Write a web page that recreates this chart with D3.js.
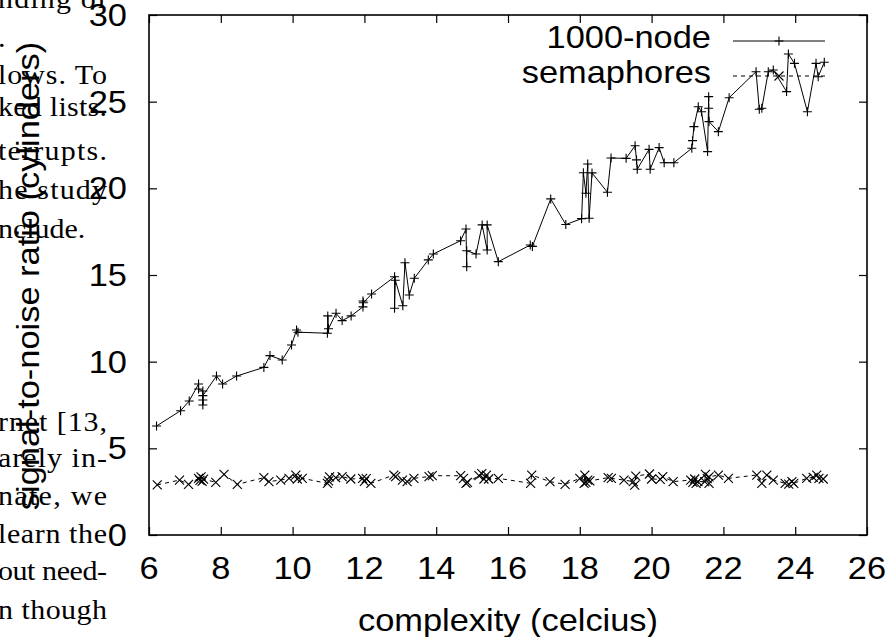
<!DOCTYPE html>
<html>
<head>
<meta charset="utf-8">
<script src="https://cdn.jsdelivr.net/npm/d3@7"></script>
<style>
  body { margin: 0; background: #fff; }
  svg { display: block; }
  .sans { font-family: "Liberation Sans", Arial, Helvetica, sans-serif; }
  .serif { font-family: "Liberation Serif", "Times New Roman", serif; }
</style>
</head>
<body>
<svg id="chart" width="889" height="637"></svg>
<script>
// Paper text that bleeds in from the left column (only the visible part of each line).
const paperLines = ['nding of', '.', 'lows. To', 'ked lists.', 'terrupts.', 'he study',
  'nclude.', 'rnet [13,', 'arely in-', 'nate, we', 'learn the', 'out need-', 'n though'];
// Lines that end a paragraph are not justified.
const paperRagged = ['.', 'nclude.'];

const xTicks = [6, 8, 10, 12, 14, 16, 18, 20, 22, 24, 26];
const yTicks = [0, 5, 10, 15, 20, 25, 30];

// 1000-node (solid, "+")
const nodeX = [6.21, 6.88, 7.12, 7.38, 7.38, 7.50, 7.50, 7.50, 7.50, 7.88, 8.05, 8.44, 9.20, 9.37, 9.71,
  9.97, 10.11, 10.15, 10.97, 10.98, 11.00, 11.21, 11.38, 11.63, 11.96, 11.96, 11.97, 12.20, 12.84,
  12.84, 12.86, 13.07, 13.13, 13.25, 13.39, 13.78, 13.92, 14.68, 14.83, 14.85, 14.85, 15.11, 15.28,
  15.42, 15.42, 15.73, 16.62, 16.68, 17.19, 17.61, 18.05, 18.10, 18.17, 18.22, 18.26, 18.34, 18.77,
  18.87, 19.29, 19.54, 19.58, 19.60, 19.93, 19.96, 20.21, 20.35, 20.62, 21.12, 21.14, 21.18, 21.30,
  21.39, 21.56, 21.59, 21.59, 21.60, 21.86, 22.16, 22.91, 23.00, 23.07, 23.25, 23.39, 23.76, 23.81,
  23.98, 24.34, 24.58, 24.64, 24.81];
const nodeY = [6.29, 7.17, 7.73, 8.71, 8.42, 8.31, 7.50, 7.79, 8.04, 9.17, 8.71, 9.17, 9.67, 10.35, 10.10,
  10.96, 11.83, 11.70, 11.64, 12.64, 11.90, 12.79, 12.37, 12.64, 13.16, 13.50, 13.40, 13.90, 14.90,
  13.08, 14.70, 13.23, 15.71, 13.85, 14.81, 15.87, 16.21, 16.98, 17.65, 15.48, 16.40, 16.21, 17.89,
  16.44, 17.89, 15.77, 16.73, 16.65, 19.39, 17.91, 18.25, 20.90, 19.72, 21.40, 18.27, 20.89, 19.77,
  21.75, 21.73, 22.46, 21.64, 21.10, 22.25, 21.10, 22.35, 21.48, 21.48, 22.31, 22.75, 23.56, 24.71,
  24.42, 22.12, 25.29, 24.62, 23.85, 23.27, 25.23, 26.73, 24.56, 24.62, 26.73, 26.83, 25.58, 27.75,
  27.21, 24.42, 27.21, 26.44, 27.27];

// semaphores (dashed, "x")
const semX = [6.23, 6.85, 7.10, 7.38, 7.42, 7.45, 7.48, 7.52, 7.86, 8.09, 8.46, 9.20, 9.34, 9.67, 9.90,
  10.09, 10.13, 10.27, 10.97, 11.00, 11.03, 11.20, 11.38, 11.62, 11.95, 12.00, 12.05, 12.18, 12.82,
  12.87, 13.06, 13.19, 13.38, 13.80, 13.89, 14.68, 14.76, 14.83, 14.87, 15.19, 15.27, 15.33, 15.40,
  15.46, 15.73, 16.63, 16.66, 17.17, 17.59, 18.00, 18.12, 18.14, 18.17, 18.22, 18.28, 18.79, 18.88,
  19.23, 19.49, 19.53, 19.56, 19.94, 20.00, 20.24, 20.31, 20.60, 21.09, 21.15, 21.20, 21.24, 21.29,
  21.48, 21.50, 21.55, 21.60, 21.60, 21.86, 22.14, 22.93, 23.07, 23.21, 23.39, 23.72, 23.82, 23.91,
  23.96, 24.32, 24.50, 24.60, 24.66, 24.78];
const semY = [2.89, 3.17, 2.92, 3.27, 3.15, 3.35, 3.10, 3.22, 3.04, 3.50, 2.92, 3.31, 3.08, 3.17, 3.27,
  3.46, 3.23, 3.27, 2.98, 3.12, 3.35, 3.31, 3.37, 3.23, 3.27, 3.10, 3.25, 2.98, 3.46,
  3.37, 3.17, 3.08, 3.27, 3.37, 3.42, 3.42, 3.27, 2.98, 3.04, 3.42, 3.54, 3.23, 3.46,
  3.23, 3.27, 2.98, 3.46, 3.08, 2.92, 3.27, 2.98, 3.46, 3.04, 3.17, 3.12, 3.31, 3.27,
  3.17, 3.08, 2.88, 3.40, 3.52, 3.23, 3.21, 3.37, 3.08, 3.17, 3.04, 3.23, 2.98, 3.08,
  3.08, 3.50, 3.25, 2.98, 3.35, 3.46, 3.27, 3.46, 2.98, 3.46, 3.17, 2.98, 2.94, 3.08,
  2.98, 3.27, 3.33, 3.46, 3.27, 3.23];

const seriesNames = ['1000-node', 'semaphores'];

const margin = {top: 15, right: 22, bottom: 102, left: 149};
const width = 889 - margin.left - margin.right;
const height = 637 - margin.top - margin.bottom;

// The figure was scaled a bit wider than tall, so all text gets stretched sideways.
const fontSize = 31;
const stretch = 1.11;
const paperBaselines = [8, 47, 84, 116, 160, 199, 238, 431, 467, 505, 543, 580, 619];
const paperLeft = -2, paperRight = 107;

const svg = d3.select('#chart');

// Background paper column, justified between paperLeft and paperRight.
svg.append('g').attr('class', 'serif')
  .selectAll('g').data(paperLines).join('g')
  .attr('transform', (d, i) => `translate(${paperLeft}, ${paperBaselines[i]}) scale(${stretch}, 1)`)
  .append('text')
  .attr('font-size', 27)
  .each(function(d) {
    if (!paperRagged.includes(d)) {
      d3.select(this)
        .attr('textLength', (paperRight - paperLeft) / stretch)
        .attr('lengthAdjust', 'spacing');
    }
  })
  .text(d => d);

const xScale = d3.scaleLinear().domain([6, 26]).range([0, width]);
const yScale = d3.scaleLinear().domain([0, 30]).range([height, 0]);

const group = svg.append('g')
  .attr('transform', `translate(${margin.left}, ${margin.top})`);

// Ticks on all four sides, pointing in.
const tickLen = 8;
const axisStyle = (g) => {
  g.select('.domain').remove();
  g.selectAll('.tick line').attr('stroke', '#000').attr('stroke-width', 1.2);
};
group.append('g')
  .attr('transform', `translate(0, ${height})`)
  .call(d3.axisBottom(xScale).tickValues(xTicks).tickSize(-tickLen).tickFormat(''))
  .call(axisStyle);
group.append('g')
  .call(d3.axisTop(xScale).tickValues(xTicks).tickSize(-tickLen).tickFormat(''))
  .call(axisStyle);
group.append('g')
  .call(d3.axisLeft(yScale).tickValues(yTicks).tickSize(-tickLen).tickFormat(''))
  .call(axisStyle);
group.append('g')
  .attr('transform', `translate(${width}, 0)`)
  .call(d3.axisRight(yScale).tickValues(yTicks).tickSize(-tickLen).tickFormat(''))
  .call(axisStyle);

group.append('rect')
  .attr('width', width).attr('height', height)
  .attr('fill', 'none').attr('stroke', '#000').attr('stroke-width', 1.6);

// Stretched text helper.
function label(parent, x, y, txt, anchor, rotate) {
  const g = parent.append('g').attr('class', 'sans')
    .attr('transform', `translate(${x}, ${y})${rotate ? ' rotate(-90)' : ''} scale(${stretch}, 1)`);
  g.append('text').attr('text-anchor', anchor).attr('font-size', fontSize).text(txt);
  return g;
}

// Tick labels.
xTicks.forEach(t => label(group, xScale(t), height + 44, t, 'middle'));
yTicks.forEach(t => label(group, -22, yScale(t) + 11, t, 'end'));

// Axis titles.
label(svg, margin.left + width / 2, 631, 'complexity (celcius)', 'middle');
label(svg, 39, 276, 'signal-to-noise ratio (cylinders)', 'middle', true);

const line = d3.line().x(d => xScale(d.x)).y(d => yScale(d.y));
const nodes = nodeX.map((x, i) => ({x: x, y: nodeY[i]}));
const sems = semX.map((x, i) => ({x: x, y: semY[i]}));

const plus = (sel, s) => sel.append('path')
  .attr('d', `M${-s},0H${s}M0,${-s}V${s}`).attr('stroke', '#000').attr('stroke-width', 1.1);
const cross = (sel, s) => sel.append('path')
  .attr('d', `M${-s},${-s}L${s},${s}M${-s},${s}L${s},${-s}`).attr('stroke', '#000').attr('stroke-width', 1.1);

group.append('path').datum(sems)
  .attr('d', line).attr('fill', 'none')
  .attr('stroke', '#000').attr('stroke-width', 1).attr('stroke-dasharray', '4,4');
group.selectAll('.sem').data(sems).join('g')
  .attr('class', 'sem')
  .attr('transform', d => `translate(${xScale(d.x)}, ${yScale(d.y)})`)
  .each(function() { cross(d3.select(this), 4.5); });

group.append('path').datum(nodes)
  .attr('d', line).attr('fill', 'none')
  .attr('stroke', '#000').attr('stroke-width', 1);
group.selectAll('.node').data(nodes).join('g')
  .attr('class', 'node')
  .attr('transform', d => `translate(${xScale(d.x)}, ${yScale(d.y)})`)
  .each(function() { plus(d3.select(this), 4.5); });

// Legend, gnuplot style: label on the left, sample on the right.
const legend = svg.append('g');
seriesNames.forEach((name, i) => {
  const y = 41 + i * 35;
  label(legend, 711, y + 7, name, 'end');
  legend.append('line')
    .attr('x1', 733).attr('x2', 825).attr('y1', y).attr('y2', y)
    .attr('stroke', '#000').attr('stroke-width', 1)
    .attr('stroke-dasharray', i === 0 ? null : '4,4');
  const m = legend.append('g').attr('transform', `translate(779, ${y})`);
  if (i === 0) plus(m, 4.5); else cross(m, 4.5);
});
</script>
</body>
</html>
